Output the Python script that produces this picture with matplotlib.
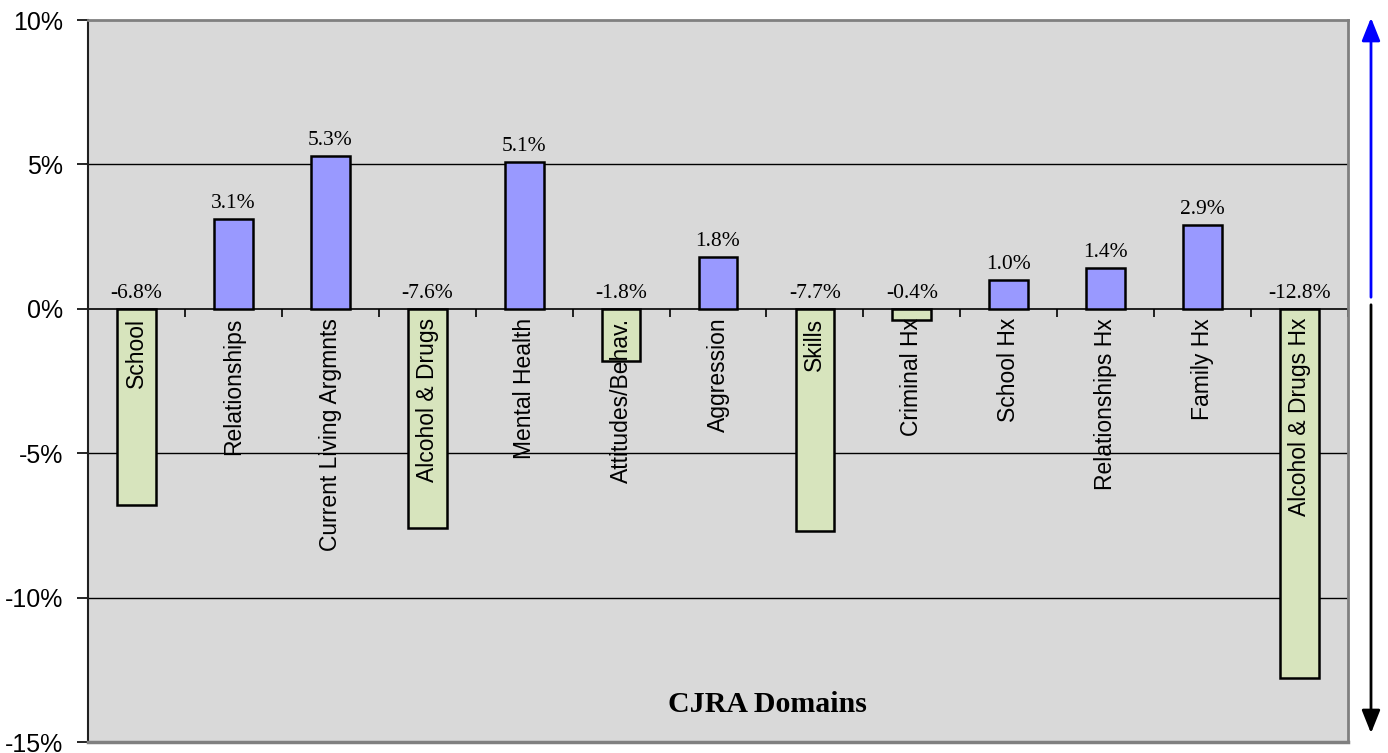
import matplotlib.pyplot as plt
from matplotlib.patches import FancyArrowPatch

domains = ['School', 'Relationships', 'Current Living Argmnts', 'Alcohol & Drugs',
           'Mental Health', 'Attitudes/Behav.', 'Aggression', 'Skills',
           'Criminal Hx', 'School Hx', 'Relationships Hx', 'Family Hx',
           'Alcohol & Drugs Hx']
changes = [-6.8, 3.1, 5.3, -7.6, 5.1, -1.8, 1.8, -7.7, -0.4, 1.0, 1.4, 2.9, -12.8]
yticks = [10, 5, 0, -5, -10, -15]

posColor = '#9999FF'
negColor = '#D7E4BD'

fig = plt.figure(figsize=(13.88, 7.53), dpi=100)
ax = fig.add_axes([88 / 1388, 1 - 742 / 753, 1260 / 1388, 722 / 753])
ax.set_facecolor('#D9D9D9')

x = list(range(len(domains)))
colors = [posColor if v >= 0 else negColor for v in changes]
ax.bar(x, changes, width=0.4, color=colors, edgecolor='black', linewidth=1.8, zorder=3)

ax.set_xlim(-0.5, len(domains) - 0.5)
ax.set_ylim(-15, 10)

for yv in [5, -5, -10]:
    ax.axhline(yv, color='black', lw=1, zorder=1)

# zero line acts as the category axis
ax.spines['bottom'].set_position(('data', 0))
ax.spines['bottom'].set_color('black')
ax.spines['bottom'].set_linewidth(1.2)
ax.spines['bottom'].set_zorder(2)
ax.set_xticks([i - 0.5 for i in range(len(domains) + 1)])
ax.set_xticklabels([])
ax.tick_params(axis='x', direction='out', length=6, width=1.2, color='black')

ax.spines['left'].set_color('#202020')
ax.spines['left'].set_linewidth(1.5)
for s in ['top', 'right']:
    ax.spines[s].set_color('#808080')
    ax.spines[s].set_linewidth(2)
ax.plot([0, 1], [0, 0], transform=ax.transAxes, color='#808080', lw=2.5, clip_on=False, zorder=5)

ax.set_yticks(yticks)
ax.set_yticklabels(['%d%%' % t for t in yticks], fontsize=18, family='Liberation Sans')
ax.tick_params(axis='y', direction='out', length=8, width=1.2, pad=10)

for i, (name, v) in enumerate(zip(domains, changes)):
    ax.annotate(name, (i, 0), xytext=(0, -9), textcoords='offset pixels',
                rotation=90, ha='center', va='top', fontsize=16.5,
                family='Liberation Sans', zorder=4)
    top = max(v, 0)
    ax.annotate('%.1f%%' % v, (i, top), xytext=(0, 6), textcoords='offset pixels',
                ha='center', va='bottom', fontsize=15.5, family='Liberation Serif', zorder=4)

ax.text(0.539, 0.052, 'CJRA Domains', transform=ax.transAxes, ha='center', va='center',
        fontsize=21.5, fontweight='bold', family='Liberation Serif')

upArrow = FancyArrowPatch((1371, 753 - 300), (1371, 753 - 15), transform=None,
                          arrowstyle='-|>,head_width=0.28,head_length=0.7',
                          mutation_scale=20, color='#0000FF', lw=2)
downArrow = FancyArrowPatch((1371, 753 - 302), (1371, 753 - 736), transform=None,
                            arrowstyle='-|>,head_width=0.28,head_length=0.7',
                            mutation_scale=20, color='black', lw=2)
fig.patches.append(upArrow)
fig.patches.append(downArrow)

fig.savefig('out.png', dpi=100)
